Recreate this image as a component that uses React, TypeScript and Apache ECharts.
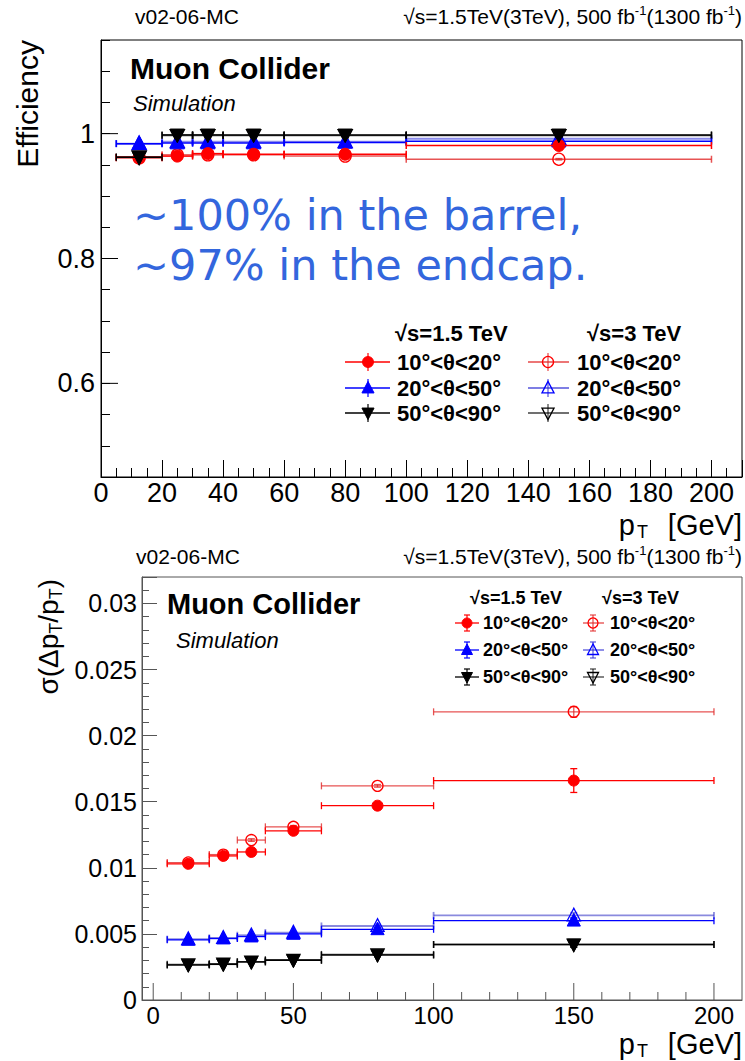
import React, { useEffect, useRef } from "react";
import * as echarts from "echarts";

// ---------- data ----------
const binEdges = [5, 20, 30, 40, 60, 100, 200];
const binCenters = [12.5, 25, 35, 50, 80, 150];

// Efficiency (top panel)
const effRed15 = [0.962, 0.964, 0.968, 0.967, 0.967, 0.981];
const effBlue15 = [0.984, 0.985, 0.985, 0.985, 0.986, 0.988];
const effBlack15 = [0.962, 0.998, 0.998, 0.998, 0.998, 0.998];
const effRed3 = [0.961, 0.966, 0.966, 0.966, 0.964, 0.959];
const effBlue3 = [0.984, 0.987, 0.987, 0.987, 0.987, 0.992];
const effBlack3 = [0.963, 0.997, 0.997, 0.997, 0.997, 0.997];
const effErr = [0.001, 0.001, 0.001, 0.001, 0.001, 0.001];

// Resolution (bottom panel)
const resRed15 = [0.0103, 0.0109, 0.0112, 0.0128, 0.0147, 0.0166];
const resBlue15 = [0.00455, 0.00465, 0.0048, 0.005, 0.00535, 0.006];
const resBlack15 = [0.00265, 0.0027, 0.00288, 0.003, 0.0034, 0.0042];
const resRed3 = [0.0104, 0.011, 0.0121, 0.0131, 0.0162, 0.0218];
const resBlue3 = [0.0046, 0.0047, 0.0049, 0.0051, 0.0056, 0.0064];
const resBlack3 = [0.0027, 0.00275, 0.0029, 0.00305, 0.00345, 0.0042];
const resErrRed15 = [0.0001, 0.0001, 0.0001, 0.0001, 0.0001, 0.0009];
const resErrRed3 = [0.0001, 0.0001, 0.0001, 0.0001, 0.0001, 0.0004];
const resErrBlue15 = [0.00005, 0.00005, 0.00005, 0.00005, 0.0001, 0.0002];
const resErrBlue3 = [0.00005, 0.00005, 0.00005, 0.00005, 0.0001, 0.0002];
const resErrBlack15 = [0.00005, 0.00005, 0.00005, 0.00005, 0.0001, 0.0002];
const resErrBlack3 = [0.00005, 0.00005, 0.00005, 0.00005, 0.0001, 0.0002];

// Axis decorations
const effMajorTicks = [0.6, 0.8, 1.0];
const resXMajorTicks = [0, 50, 100, 150, 200];
const resXMinorTicks = [10, 20, 30, 40, 60, 70, 80, 90, 110, 120, 130, 140, 160, 170, 180, 190];

const legendLabels = ["10°<θ<20°", "20°<θ<50°", "50°<θ<90°"];

const FONT = "'Liberation Sans', Arial, Helvetica, sans-serif";

type MarkerKind = "circle" | "up" | "down";

function markerShape(kind: MarkerKind, cx: number, cy: number, s: number, color: string, filled: boolean) {
  const style: any = filled
    ? { fill: color, stroke: color, lineWidth: 1 }
    : { fill: "rgba(255,255,255,0)", stroke: color, lineWidth: 1.3 };
  if (kind === "circle") return { type: "circle", shape: { cx, cy, r: s * 0.5 }, style };
  if (kind === "up")
    return {
      type: "polygon",
      shape: { points: [[cx, cy - s * 0.6], [cx - s * 0.55, cy + s * 0.45], [cx + s * 0.55, cy + s * 0.45]] },
      style,
    };
  return {
    type: "polygon",
    shape: { points: [[cx, cy + s * 0.6], [cx - s * 0.55, cy - s * 0.45], [cx + s * 0.55, cy - s * 0.45]] },
    style,
  };
}

function dataSeries(
  g: number,
  vals: number[],
  errs: number[],
  color: string,
  lineColor: string,
  kind: MarkerKind,
  filled: boolean,
  size: number,
  lw: number,
  z: number
) {
  return {
    type: "custom",
    xAxisIndex: g,
    yAxisIndex: g,
    z,
    silent: true,
    encode: { x: 0, y: 1 },
    data: binCenters.map((c, i) => [c, vals[i], binEdges[i], binEdges[i + 1], errs[i]]),
    renderItem: (_p: any, api: any) => {
      const x = api.value(0), y = api.value(1), lo = api.value(2), hi = api.value(3), e = api.value(4);
      const p = api.coord([x, y]);
      const pl = api.coord([lo, y]);
      const ph = api.coord([hi, y]);
      const pt = api.coord([x, y + e]);
      const pb = api.coord([x, y - e]);
      const ls = { stroke: lineColor, lineWidth: lw };
      const cap = 3.5;
      return {
        type: "group",
        children: [
          { type: "line", shape: { x1: pl[0], y1: pl[1], x2: ph[0], y2: ph[1] }, style: ls },
          { type: "line", shape: { x1: pl[0], y1: pl[1] - cap, x2: pl[0], y2: pl[1] + cap }, style: ls },
          { type: "line", shape: { x1: ph[0], y1: ph[1] - cap, x2: ph[0], y2: ph[1] + cap }, style: ls },
          { type: "line", shape: { x1: pt[0], y1: pt[1], x2: pb[0], y2: pb[1] }, style: ls },
          { type: "line", shape: { x1: pt[0] - cap, y1: pt[1], x2: pt[0] + cap, y2: pt[1] }, style: ls },
          { type: "line", shape: { x1: pb[0] - cap, y1: pb[1], x2: pb[0] + cap, y2: pb[1] }, style: ls },
          markerShape(kind, p[0], p[1], size, color, filled),
        ],
      };
    },
  };
}

function xTickSeries(g: number, values: number[], yBase: number, len: number, color: string) {
  return {
    type: "custom",
    xAxisIndex: g,
    yAxisIndex: g,
    silent: true,
    z: 1,
    encode: { x: 0, y: 1 },
    data: values.map((v) => [v, yBase]),
    renderItem: (_p: any, api: any) => {
      const p = api.coord([api.value(0), api.value(1)]);
      return { type: "line", shape: { x1: p[0], y1: p[1], x2: p[0], y2: p[1] - len }, style: { stroke: color, lineWidth: 1 } };
    },
  };
}

function yTickSeries(g: number, values: number[], xBase: number, len: number, color: string) {
  return {
    type: "custom",
    xAxisIndex: g,
    yAxisIndex: g,
    silent: true,
    z: 1,
    encode: { x: 0, y: 1 },
    data: values.map((v) => [xBase, v]),
    renderItem: (_p: any, api: any) => {
      const p = api.coord([api.value(0), api.value(1)]);
      return { type: "line", shape: { x1: p[0], y1: p[1], x2: p[0] + len, y2: p[1] }, style: { stroke: color, lineWidth: 1 } };
    },
  };
}

function legendGraphics(
  hdrY: number, rows: number[], cols: { mx: number; l0: number; l1: number; tx: number; hx: number; hdr: string; filled: boolean; lineAlpha: boolean }[],
  fontSize: number, msize: number, vlen: number, caps: boolean
) {
  const out: any[] = [];
  const colors = ["#ff0000", "#0000ff", "#000000"];
  const light = ["rgba(225,40,40,0.85)", "rgba(40,40,210,0.8)", "rgba(0,0,0,0.75)"];
  const kinds: MarkerKind[] = ["circle", "up", "down"];
  cols.forEach((c) => {
    out.push({
      type: "text", x: c.hx, y: hdrY,
      style: { text: c.hdr, font: `bold ${fontSize}px ${FONT}`, fill: "#000", align: "left", verticalAlign: "middle" },
    });
    rows.forEach((ry, i) => {
      const lc = c.lineAlpha ? light[i] : colors[i];
      out.push({ type: "line", shape: { x1: c.l0, y1: ry, x2: c.l1, y2: ry }, style: { stroke: lc, lineWidth: 1.3 } });
      out.push({ type: "line", shape: { x1: c.mx, y1: ry - vlen, x2: c.mx, y2: ry + vlen }, style: { stroke: lc, lineWidth: 1.2 } });
      if (caps) {
        out.push({ type: "line", shape: { x1: c.mx - 3, y1: ry - vlen, x2: c.mx + 3, y2: ry - vlen }, style: { stroke: lc, lineWidth: 1.2 } });
        out.push({ type: "line", shape: { x1: c.mx - 3, y1: ry + vlen, x2: c.mx + 3, y2: ry + vlen }, style: { stroke: lc, lineWidth: 1.2 } });
      }
      out.push(markerShape(kinds[i], c.mx, ry, msize, colors[i], c.filled));
      out.push({
        type: "text", x: c.tx, y: ry,
        style: { text: legendLabels[i], font: `bold ${fontSize}px ${FONT}`, fill: "#000", align: "left", verticalAlign: "middle" },
      });
    });
  });
  return out;
}

// x-axis title "p_T [GeV]" as three right-aligned pieces
function ptTitle(yc: number) {
  return [
    { type: "text", x: 742, y: yc, style: { text: "[GeV]", font: `29px ${FONT}`, fill: "#000", align: "right", verticalAlign: "middle", lineHeight: 27 } },
    { type: "text", x: 648, y: yc + 7, style: { text: "T", font: `18px ${FONT}`, fill: "#000", align: "right", verticalAlign: "middle", lineHeight: 17 } },
    { type: "text", x: 635, y: yc, style: { text: "p", font: `29px ${FONT}`, fill: "#000", align: "right", verticalAlign: "middle", lineHeight: 27 } },
  ];
}

export default function App() {
  const ref = useRef<HTMLDivElement>(null);

  useEffect(() => {
    if (!ref.current) return;
    const chart = echarts.init(ref.current, undefined, { renderer: "svg" });

    const topColor = "#000";
    const botColor = "#555";

    const headerRich = {
      sup: { fontSize: 13, fontFamily: FONT, verticalAlign: "top", lineHeight: 24, fill: "#000", padding: [0, 0, 8, 0] },
    };

    const option: any = {
      animation: false,
      grid: [
        { left: 101, top: 40, width: 642, height: 437, show: true, borderColor: topColor, borderWidth: 1, backgroundColor: "transparent" },
        { left: 142, top: 577, width: 602, height: 423, show: true, borderColor: botColor, borderWidth: 1, backgroundColor: "transparent" },
      ],
      xAxis: [
        {
          type: "value", gridIndex: 0, min: 0, max: 210, interval: 20,
          axisLine: { show: true, onZero: false, lineStyle: { color: topColor, width: 1 } },
          axisTick: { show: true, inside: true, length: 17, lineStyle: { color: topColor } },
          minorTick: { show: true, splitNumber: 4, length: 9, lineStyle: { color: topColor } },
          splitLine: { show: false }, minorSplitLine: { show: false },
          axisLabel: {
            margin: 4, fontSize: 27, lineHeight: 24, color: "#000", fontFamily: FONT,
            formatter: (v: number) => (Math.abs(v % 20) < 1e-9 && v <= 200 ? String(v) : ""),
          },
        },
        {
          type: "value", gridIndex: 1, min: -4, max: 210, interval: 2,
          axisLine: { show: true, onZero: false, lineStyle: { color: botColor, width: 1 } },
          axisTick: { show: false }, minorTick: { show: false },
          splitLine: { show: false },
          axisLabel: {
            margin: 4, fontSize: 24, lineHeight: 22, color: "#000", fontFamily: FONT,
            formatter: (v: number) => (Math.abs(v % 50) < 1e-9 && v >= 0 && v <= 200 ? String(v) : ""),
          },
        },
      ],
      yAxis: [
        {
          type: "value", gridIndex: 0, min: 0.45, max: 1.15, interval: 0.05,
          axisLine: { show: true, onZero: false, lineStyle: { color: topColor, width: 1 } },
          axisTick: { show: true, inside: true, length: 9, lineStyle: { color: topColor } },
          splitLine: { show: false },
          axisLabel: {
            margin: 6, fontSize: 27, color: "#000", fontFamily: FONT,
            formatter: (v: number) => {
              const k = Math.round(v * 10);
              if (Math.abs(v * 10 - k) > 1e-6 || k % 2 !== 0) return "";
              return k === 10 ? "1" : String(k / 10);
            },
          },
        },
        {
          type: "value", gridIndex: 1, min: 0, max: 0.032, interval: 0.005,
          axisLine: { show: true, onZero: false, lineStyle: { color: botColor, width: 1 } },
          axisTick: { show: true, inside: true, length: 15, lineStyle: { color: botColor } },
          minorTick: { show: true, splitNumber: 5, length: 7, lineStyle: { color: botColor } },
          splitLine: { show: false }, minorSplitLine: { show: false },
          axisLabel: {
            margin: 5, fontSize: 25, color: "#000", fontFamily: FONT,
            formatter: (v: number) => {
              const k = Math.round(v / 0.005);
              if (Math.abs(v / 0.005 - k) > 1e-6) return "";
              return String(+(k * 0.005).toFixed(3));
            },
          },
        },
      ],
      series: [
        yTickSeries(0, effMajorTicks, 0, 17, topColor),
        xTickSeries(1, resXMajorTicks, 0, 17, botColor),
        xTickSeries(1, resXMinorTicks, 0, 8, botColor),
        // top panel: 3 TeV (open), then 1.5 TeV (filled)
        dataSeries(0, effRed3, effErr, "#ff0000", "rgba(225,40,40,0.8)", "circle", false, 12, 1.5, 3),
        dataSeries(0, effBlue3, effErr, "#0000ff", "rgba(60,60,220,0.6)", "up", false, 13, 2, 3),
        dataSeries(0, effBlack3, effErr, "#000000", "rgba(0,0,0,0.7)", "down", false, 13, 1.5, 3),
        dataSeries(0, effBlue15, effErr, "#0000ff", "#0000ff", "up", true, 13, 1.5, 4),
        dataSeries(0, effRed15, effErr, "#ff0000", "#ff0000", "circle", true, 12, 1.5, 4),
        dataSeries(0, effBlack15, effErr, "#000000", "#000000", "down", true, 13, 1.5, 4),
        // bottom panel
        dataSeries(1, resRed3, resErrRed3, "#ff0000", "rgba(225,40,40,0.8)", "circle", false, 11, 1.3, 3),
        dataSeries(1, resBlue3, resErrBlue3, "#0000ff", "rgba(60,60,200,0.6)", "up", false, 12, 1.8, 3),
        dataSeries(1, resBlack3, resErrBlack3, "#000000", "rgba(0,0,0,0.7)", "down", false, 12, 1.3, 3),
        dataSeries(1, resRed15, resErrRed15, "#ff0000", "#ff0000", "circle", true, 11, 1.3, 4),
        dataSeries(1, resBlue15, resErrBlue15, "#0000ff", "#0000ff", "up", true, 12, 1.3, 4),
        dataSeries(1, resBlack15, resErrBlack15, "#000000", "#000000", "down", true, 12, 1.5, 4),
      ],
      graphic: [
        // headers
        { type: "text", x: 135, y: 16, style: { text: "v02-06-MC", font: `21px ${FONT}`, fill: "#000", align: "left", verticalAlign: "middle" } },
        {
          type: "text", x: 742, y: 16,
          style: {
            text: "√s=1.5TeV(3TeV), 500 fb{sup|-1}(1300 fb{sup|-1})", font: `21px ${FONT}`, fill: "#000",
            align: "right", verticalAlign: "middle", lineHeight: 24, rich: headerRich,
          },
        },
        { type: "text", x: 136, y: 556, style: { text: "v02-06-MC", font: `21px ${FONT}`, fill: "#000", align: "left", verticalAlign: "middle" } },
        {
          type: "text", x: 742, y: 556,
          style: {
            text: "√s=1.5TeV(3TeV), 500 fb{sup|-1}(1300 fb{sup|-1})", font: `21px ${FONT}`, fill: "#000",
            align: "right", verticalAlign: "middle", lineHeight: 24, rich: headerRich,
          },
        },
        // axis titles
        {
          type: "text", x: 27, y: 40, rotation: Math.PI / 2,
          style: { text: "Efficiency", font: `30px ${FONT}`, fill: "#000", align: "right", verticalAlign: "middle" },
        },
        {
          type: "text", x: 48, y: 579, rotation: Math.PI / 2,
          style: {
            text: "σ(Δp{sub|T}/p{sub|T})", font: `28px ${FONT}`, fill: "#000", align: "right", verticalAlign: "middle",
            lineHeight: 34,
            rich: { sub: { fontSize: 18, fontFamily: FONT, verticalAlign: "bottom", lineHeight: 18 } },
          },
        },
        ...ptTitle(525),
        ...ptTitle(1044),
        // labels
        { type: "text", x: 130, y: 68, style: { text: "Muon Collider", font: `bold 30px ${FONT}`, fill: "#000", align: "left", verticalAlign: "middle" } },
        { type: "text", x: 133, y: 103, style: { text: "Simulation", font: `italic 22px ${FONT}`, fill: "#000", align: "left", verticalAlign: "middle" } },
        { type: "text", x: 167, y: 604, style: { text: "Muon Collider", font: `bold 29px ${FONT}`, fill: "#000", align: "left", verticalAlign: "middle" } },
        { type: "text", x: 176, y: 640, style: { text: "Simulation", font: `italic 22px ${FONT}`, fill: "#000", align: "left", verticalAlign: "middle" } },
        // annotation
        { type: "text", x: 133, y: 215, style: { text: "~100% in the barrel,", font: `43px 'DejaVu Sans', sans-serif`, fill: "#3366dd", align: "left", verticalAlign: "middle" } },
        { type: "text", x: 133, y: 265, style: { text: "~97% in the endcap.", font: `43px 'DejaVu Sans', sans-serif`, fill: "#3366dd", align: "left", verticalAlign: "middle" } },
        // legends
        ...legendGraphics(333, [362, 388, 413], [
          { mx: 368, l0: 345, l1: 390, tx: 397, hx: 395, hdr: "√s=1.5 TeV", filled: true, lineAlpha: false },
          { mx: 548, l0: 528, l1: 569, tx: 577, hx: 587, hdr: "√s=3 TeV", filled: false, lineAlpha: true },
        ], 22, 11, 9, false),
        ...legendGraphics(598, [623, 650, 677], [
          { mx: 467, l0: 455, l1: 479, tx: 483, hx: 470, hdr: "√s=1.5 TeV", filled: true, lineAlpha: false },
          { mx: 593, l0: 583, l1: 604, tx: 610, hx: 602, hdr: "√s=3 TeV", filled: false, lineAlpha: true },
        ], 18, 10, 8, true),
      ],
    };

    chart.setOption(option);
    return () => chart.dispose();
  }, []);

  return <div ref={ref} style={{ position: "absolute", left: 0, top: 0, width: 745, height: 1061, background: "#fff" }} />;
}
